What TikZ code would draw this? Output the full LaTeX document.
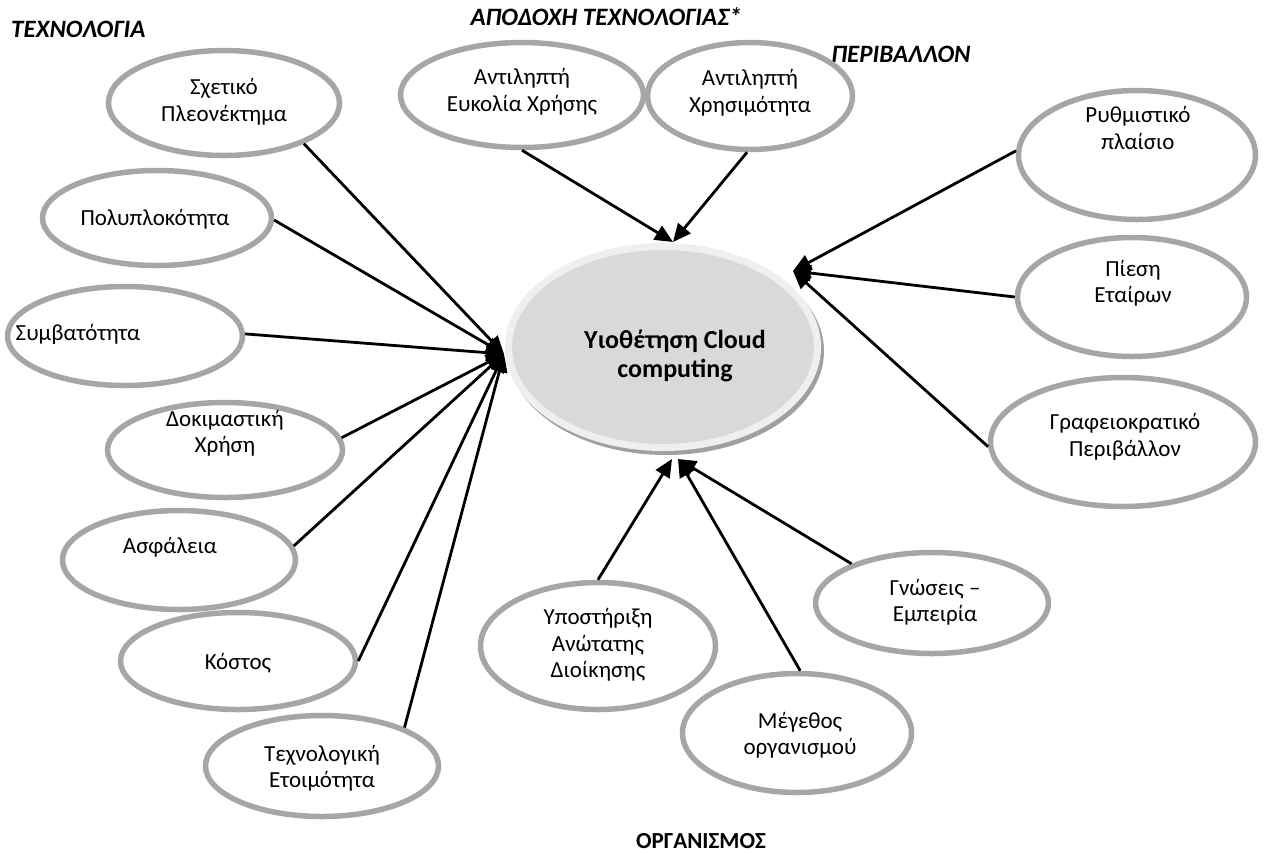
\documentclass[tikz,border=0pt]{standalone}
\usepackage{fontspec}
\setmainfont{Carlito}
\usetikzlibrary{arrows.meta,shapes.geometric}
\definecolor{ovalgray}{HTML}{A6A6A6}
\definecolor{hubfill}{HTML}{D9D9D9}
\definecolor{hubring}{HTML}{EFEFEF}
\definecolor{hubshadow}{HTML}{A0A0A0}

\begin{document}
\begin{tikzpicture}[x=1pt,y=-1pt,
  oval/.style={ellipse, draw=ovalgray, line width=5.5pt, inner sep=0pt},
  lbl/.style={align=center, font=\fontsize{23}{26.5}\selectfont, inner sep=0pt},
  head/.style={font=\fontsize{25}{28}\selectfont\bfseries\itshape, anchor=base, inner sep=0pt},
  link/.style={line width=2.8pt, -{Triangle[length=18pt,width=16pt]}},
]
\useasboundingbox (0,0) rectangle (1264,852);

% central hub with its shadow
\node[ellipse, fill=hubshadow, minimum width=316pt, minimum height=208pt, inner sep=0pt] (hubshade) at (666,351) {};
\node[ellipse, draw=hubring, fill=hubfill, line width=7pt, minimum width=309pt, minimum height=201pt, inner sep=0pt] (hub) at (663,347) {};
\node[align=center, inner sep=0pt, font=\fontsize{26}{29}\selectfont\bfseries] (hubtext) at (675,356) {Υιοθέτηση Cloud\\computing};

% arrow targets on the hub
\coordinate (tipL) at (504,354);
\coordinate (tipT) at (673,242);
\coordinate (tipR) at (793,271);
\coordinate (tipB1) at (672,459);
\coordinate (tipB2) at (678,459);

% group headings
\node[head, anchor=base west] (hTech) at (11,37) {ΤΕΧΝΟΛΟΓΙΑ};
\node[head] (hAcc) at (606,25) {ΑΠΟΔΟΧΗ ΤΕΧΝΟΛΟΓΙΑΣ*};
\node[head] (hEnv) at (901,62) {ΠΕΡΙΒΑΛΛΟΝ};
\node[head, font=\fontsize{23}{26}\selectfont\bfseries] (hOrg) at (701,848) {ΟΡΓΑΝΙΣΜΟΣ};

% technology factors
\node[oval, minimum width=231pt, minimum height=105pt] (sxet) at (224,103) {};
\node[lbl] (sxetT) at (224,102) {Σχετικό\\Πλεονέκτημα};
\node[oval, minimum width=229pt, minimum height=95pt] (polyp) at (157,218) {};
\node[lbl] (polypT) at (155,219) {Πολυπλοκότητα};
\node[oval, minimum width=235pt, minimum height=99pt] (symv) at (125,336) {};
\node[lbl] (symvT) at (78,334) {Συμβατότητα};
\node[oval, minimum width=235pt, minimum height=95pt] (dokim) at (225,450) {};
\node[lbl] (dokimT) at (225,433) {Δοκιμαστική\\Χρήση};
\node[oval, minimum width=233pt, minimum height=99pt] (asfal) at (179,560) {};
\node[lbl] (asfalT) at (170,547) {Ασφάλεια};
\node[oval, minimum width=235pt, minimum height=97pt] (kostos) at (238,661) {};
\node[lbl] (kostosT) at (238,663) {Κόστος};
\node[oval, minimum width=233pt, minimum height=101pt] (texnol) at (322,766) {};
\node[lbl] (texnolT) at (322,768) {Τεχνολογική\\Ετοιμότητα};

% technology acceptance factors
\node[oval, minimum width=243pt, minimum height=105pt] (efk) at (522,95) {};
\node[lbl] (efkT) at (522,92) {Αντιληπτή\\Ευκολία Χρήσης};
\node[oval, minimum width=205pt, minimum height=107pt] (xrisi) at (750,96) {};
\node[lbl] (xrisiT) at (750,93) {Αντιληπτή\\Χρησιμότητα};

% environment factors
\node[oval, minimum width=237pt, minimum height=129pt] (rythm) at (1137,155) {};
\node[lbl] (rythmT) at (1138,128) {Ρυθμιστικό\\πλαίσιο};
\node[oval, minimum width=229pt, minimum height=119pt] (piesi) at (1132,297) {};
\node[lbl] (piesiT) at (1133,283) {Πίεση\\Εταίρων};
\node[oval, minimum width=265pt, minimum height=129pt] (grafeio) at (1123,442) {};
\node[lbl] (grafeioT) at (1125,437) {Γραφειοκρατικό\\Περιβάλλον};

% organisation factors
\node[oval, minimum width=235pt, minimum height=127pt] (ypost) at (598,646) {};
\node[lbl] (ypostT) at (598,645) {Υποστήριξη\\Ανώτατης\\Διοίκησης};
\node[oval, minimum width=229pt, minimum height=119pt] (megeth) at (797,733) {};
\node[lbl] (megethT) at (800,735) {Μέγεθος\\οργανισμού};
\node[oval, minimum width=233pt, minimum height=101pt] (gnoseis) at (932,603) {};
\node[lbl] (gnoseisT) at (935,602) {Γνώσεις –\\Εμπειρία};

% connectors
\draw[link] (sxet.-27) -- (tipL);
\draw[link] (polyp.-1) -- (tipL);
\draw[link] (symv.1) -- (tipL);
\draw[link] (dokim.6) -- (tipL);
\draw[link] (asfal.7) -- (tipL);
\draw[link] (kostos.0) -- (tipL);
\draw[link] (texnol.25) -- (tipL);
\draw[link] (efk.-90) -- (tipT);
\draw[link] (xrisi.-93) -- (tipT);
\draw[link] (rythm.178) -- (tipR);
\draw[link] (piesi.180) -- (tipR);
\draw[link] (grafeio.182) -- (tipR);
\draw[link] (ypost.90) -- (tipB1);
\draw[link] (megeth.87) -- (tipB2);
\draw[link] (gnoseis.154) -- (tipB2);
\end{tikzpicture}
\end{document}
